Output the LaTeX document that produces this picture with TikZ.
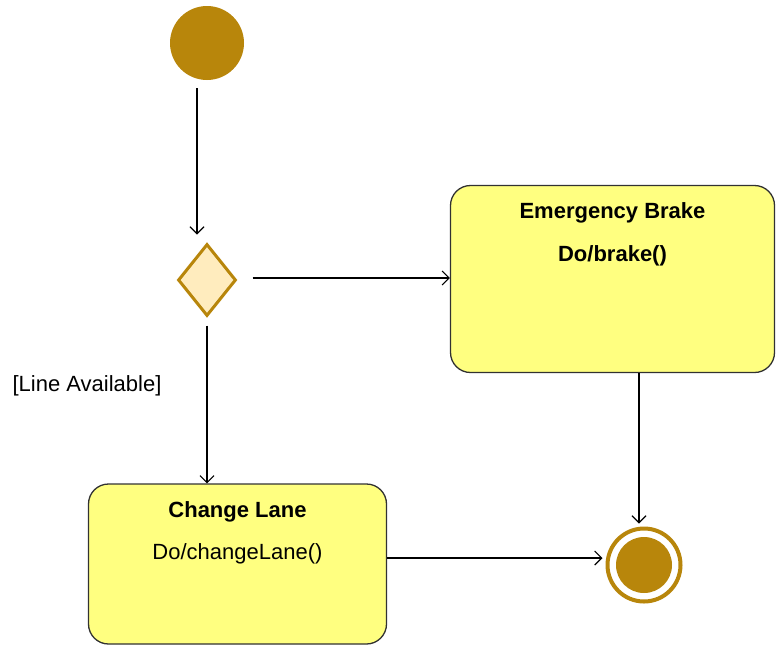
\documentclass[tikz,border=0pt]{standalone}
\usepackage{fontspec}
\setmainfont{Liberation Sans}
\usetikzlibrary{shapes.geometric,arrows.meta,calc}
\definecolor{gold}{RGB}{184,134,11}
\definecolor{decfill}{RGB}{255,236,190}
\definecolor{statefill}{RGB}{255,255,128}
\definecolor{stateline}{RGB}{50,50,50}
\tikzset{
  arr/.style={draw=black, line width=1.1pt, -{Straight Barb[length=7pt,width=14pt,line width=1.1pt]}},
  statebox/.style={draw=stateline, line width=1.3pt, fill=statefill, rounded corners=20pt, inner sep=0pt},
  title/.style={font=\fontsize{22}{26}\selectfont\bfseries, inner sep=0pt},
  activity/.style={font=\fontsize{22}{26}\selectfont, inner sep=0pt},
}
\begin{document}
\begin{tikzpicture}[x=1pt,y=-1pt]
\useasboundingbox (0,0) rectangle (776,646);
% initial pseudo-state
\node[circle, fill=gold, minimum size=74pt, inner sep=0pt] (init) at (207,43) {};
% decision
\node[diamond, draw=gold, line width=3pt, fill=decfill, minimum width=58pt, minimum height=72pt, inner sep=0pt] (dec) at (207,280) {};
% states
\node[statebox, minimum width=324pt, minimum height=187pt] (eb) at (612.5,279) {};
\node[title] at ($(eb.north)+(0,28)$) {Emergency Brake};
\node[title] at ($(eb.north)+(0,71)$) {Do/brake()};
\node[statebox, minimum width=298pt, minimum height=160pt] (cl) at (237.5,564) {};
\node[title] at ($(cl.north)+(0,28)$) {Change Lane};
\node[activity] at ($(cl.north)+(0,70)$) {Do/changeLane()};
% final state
\node[circle, draw=gold, line width=4pt, fill=white, minimum size=73pt, inner sep=0pt] (fin) at (644,565) {};
\node[circle, fill=gold, minimum size=56pt, inner sep=0pt] at (fin) {};
% guard
\node[activity] (guard) at (87,386) {[Line Available]};
% transitions
\draw[arr, shorten <=8pt, shorten >=8pt] ($(init.south)+(-10,0)$) -- ($(dec.north)+(-10,0)$);
\draw[arr, shorten <=8pt] (dec.south) -- (dec.south |- cl.north);
\draw[arr, shorten <=15pt] ($(dec.east)+(0,-2)$) -- ($(dec.east -| eb.west)+(0,-2)$);
\draw[arr, shorten >=3pt] ($(eb.south -| fin.north)+(-5,0)$) -- ($(fin.north)+(-5,0)$);
\coordinate (clout) at ($(cl.east)+(0,-6)$);
\draw[arr, shorten >=3pt] (clout) -- (clout -| fin.west);
\end{tikzpicture}
\end{document}
